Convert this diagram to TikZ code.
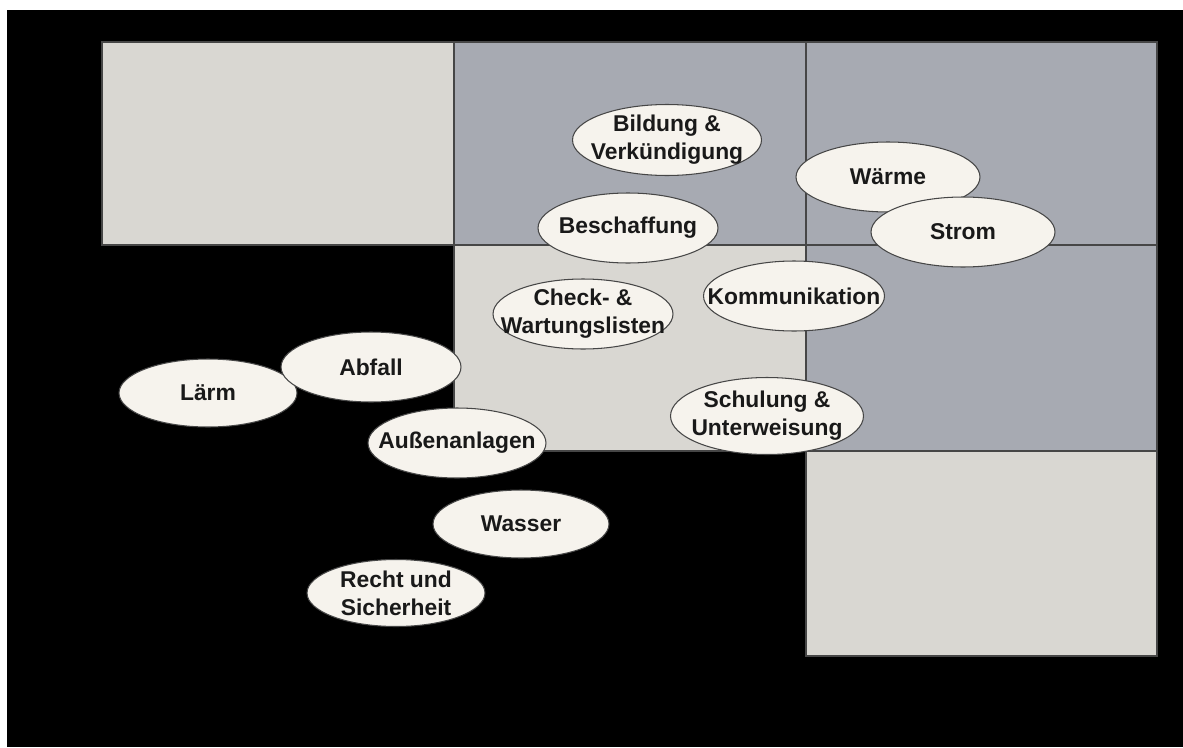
\documentclass[tikz,border=0pt]{standalone}
\usepackage{fontspec}
\setmainfont{Liberation Sans}
\usepackage{xcolor}
\usetikzlibrary{shapes.geometric}
\definecolor{panelgray}{RGB}{217,215,210}
\definecolor{panelblue}{RGB}{167,170,178}
\definecolor{bubblefill}{RGB}{246,243,237}
\definecolor{edgegray}{RGB}{70,70,70}

\begin{document}
\begin{tikzpicture}[x=0.02cm, y=-0.02cm,
		panel/.style={draw=edgegray, line width=0.6pt},
		bubble/.style={ellipse, draw=edgegray, fill=bubblefill, line width=0.6pt,
			inner sep=0pt, minimum width=3.6cm, minimum height=1.4cm},
		bubbletext/.style={font=\bfseries\fontsize{13}{15.8}\selectfont,
			align=center, text=black!90, inner sep=0pt}
	]
		% frame and background
		\useasboundingbox[fill=white] (0,0) rectangle (1183,747);
		\fill[black] (7,10) rectangle (1183,747);

		% grid panels
		\filldraw[panel, fill=panelgray] (102,42) rectangle (454,245);
		\filldraw[panel, fill=panelblue] (454,42) rectangle (806,245);
		\filldraw[panel, fill=panelblue] (806,42) rectangle (1157,245);
		\filldraw[panel, fill=panelgray] (454,245) rectangle (806,451);
		\filldraw[panel, fill=panelblue] (806,245) rectangle (1157,451);
		\filldraw[panel, fill=panelgray] (806,451) rectangle (1157,656);

		% topics
		\node[bubble, minimum width=3.78cm, minimum height=1.42cm] (bildung) at (667,140)
			[label={[bubbletext]center:Bildung \&\\Verkündigung}] {};
		\node[bubble, minimum width=3.68cm] (waerme) at (888,177)
			[label={[bubbletext]center:Wärme}] {};
		\node[bubble, minimum width=3.68cm] (strom) at (963,232)
			[label={[bubbletext]center:Strom}] {};
		\node[bubble] (beschaffung) at (628,228)
			[label={[bubbletext]center:Beschaffung}] {};
		\node[bubble, minimum width=3.62cm] (kommunikation) at (794,296)
			[label={[bubbletext]center:Kommunikation}] {};
		\node[bubble] (checklisten) at (583,314)
			[label={[bubbletext]center:Check- \&\\Wartungslisten}] {};
		\node[bubble, minimum width=3.86cm, minimum height=1.54cm] (schulung) at (767,416)
			[label={[bubbletext]center:Schulung \&\\Unterweisung}] {};
		\node[bubble, minimum width=3.56cm, minimum height=1.36cm] (laerm) at (208,393)
			[label={[bubbletext]center:Lärm}] {};
		\node[bubble] (abfall) at (371,367)
			[label={[bubbletext]center:Abfall}] {};
		\node[bubble, minimum width=3.56cm] (aussen) at (457,443)
			[label={[bubbletext]center:Außenanlagen}] {};
		\node[bubble, minimum width=3.52cm, minimum height=1.36cm] (wasser) at (521,524)
			[label={[bubbletext]center:Wasser}] {};
		\node[bubble, minimum width=3.56cm, minimum height=1.34cm] (recht) at (396,593)
			[label={[bubbletext]center:Recht und\\Sicherheit}] {};
	\end{tikzpicture}
\end{document}
